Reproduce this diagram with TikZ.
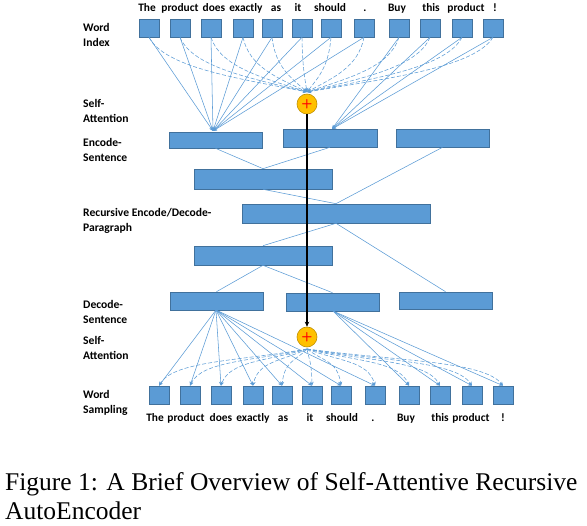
\documentclass[tikz,border=0pt]{standalone}
\usepackage{fontspec}
\setmainfont{Liberation Serif}
\newfontfamily\labfont{Carlito}
\usetikzlibrary{arrows.meta}
\definecolor{boxfill}{HTML}{5B9BD5}
\definecolor{boxline}{HTML}{41719C}
\definecolor{linkc}{HTML}{5B9BD5}
\definecolor{circfill}{HTML}{FFC000}
\definecolor{circline}{HTML}{BF9000}
\tikzset{
  wbox/.style={draw=boxline, fill=boxfill, line width=0.6pt, inner sep=0pt, minimum width=20pt, minimum height=18pt},
  sbox/.style={draw=boxline, fill=boxfill, line width=0.6pt, inner sep=0pt, minimum height=18pt},
  lab/.style={font=\labfont\bfseries\fontsize{11.6}{14.5}\selectfont, align=left, anchor=west, inner sep=0pt},
  wlab/.style={font=\labfont\bfseries\fontsize{11.4}{12}\selectfont, anchor=base, inner sep=0pt},
  link/.style={draw=linkc, line width=0.55pt, -{Stealth[length=4pt,width=3.5pt]}},
  dlink/.style={draw=linkc, line width=0.55pt, dash pattern=on 4pt off 2pt, -{Stealth[length=4pt,width=3.5pt]}},
  attn/.style={circle, draw=circline, fill=circfill, line width=0.6pt, minimum size=20pt, inner sep=0pt, text=red, font=\sffamily\bfseries\fontsize{13}{13}\selectfont},
}
\begin{document}
\begin{tikzpicture}[x=1pt,y=-1pt]
\useasboundingbox (0,0) rectangle (587,526);
% top word boxes
\foreach \x [count=\i] in {149,180,211,243,272,302,331,364,399,430,462,493}
  \node[wbox] (t\i) at (\x,28) {};
\foreach \x [count=\i] in {159,190,221,253,282,312,341,375,409,440,472,503}
  \node[wbox] (b\i) at (\x,395) {};
% top words
\foreach \x/\w in {147/The,180/product,214/does,246/exactly,276/as,298/it,330/should,365/.,397/Buy,431/this,466/product,495/!}
  \node[wlab] at (\x,12) {\w};
\foreach \x/\w in {155/The,186/product,221/does,253/exactly,283/as,310/it,342/should,373/.,406/Buy,440/this,471/product,503/!}
  \node[wlab] at (\x,422) {\w};
% sentence / paragraph boxes
\node[sbox, minimum width=93pt, minimum height=16pt] (e1) at (215.5,140) {};
\node[sbox, minimum width=94pt] (e2) at (330,138) {};
\node[sbox, minimum width=93pt] (e3) at (442.5,138) {};
\node[sbox, minimum width=138pt, minimum height=20pt] (m1) at (263,179) {};
\node[sbox, minimum width=188pt, minimum height=19pt] (r) at (336,213.5) {};
\node[sbox, minimum width=138pt, minimum height=19pt] (m2) at (263,255.5) {};
\node[sbox, minimum width=93pt] (d1) at (216.5,301) {};
\node[sbox, minimum width=93pt] (d2) at (332.5,302) {};
\node[sbox, minimum width=93pt, minimum height=17pt] (d3) at (445.5,300.5) {};
% attention circles
\node[attn] (c1) at (307,104) {+};
\node[attn] (c2) at (307,337) {+};
\coordinate (ctop) at (307,92);
\coordinate (cbot) at (307,349);
\coordinate (el) at (213,131);
\coordinate (er) at (332,129);
\coordinate (dl) at (216,310);
\coordinate (dr) at (333,311);
% tree links
\draw[draw=linkc, line width=0.55pt] (e1.south) -- (m1.north);
\draw[draw=linkc, line width=0.55pt] (e2.south) -- (m1.north);
\draw[draw=linkc, line width=0.55pt] (m1.south) -- (r.north);
\draw[draw=linkc, line width=0.55pt] (e3.south) -- (r.north);
\draw[draw=linkc, line width=0.55pt] (r.south) -- (m2.north);
\draw[draw=linkc, line width=0.55pt] (r.south) -- (d3.north);
\draw[draw=linkc, line width=0.55pt] (m2.south) -- (d1.north);
\draw[draw=linkc, line width=0.55pt] (m2.south) -- (d2.north);
% top solid links
\foreach \i in {1,...,8} \draw[link] (t\i.south) -- (el);
\foreach \i in {9,...,12} \draw[link] (t\i.south) -- (er);
% top dashed links
\foreach \x [count=\i] in {149,180,211,243,272,302,331,364,399,430,462,493} {
  \pgfmathsetmacro{\dx}{307-\x}
  \pgfmathsetmacro{\ax}{0.1*\dx}
  \pgfmathsetmacro{\bx}{-0.45*\dx}
  \draw[dlink] (t\i.south) .. controls +(\ax,30) and +(\bx,-14) .. (ctop);
}
% bottom solid links
\foreach \i in {1,...,8} \draw[link] (dl) -- (b\i.north);
\foreach \i in {9,...,12} \draw[link] (dr) -- (b\i.north);
% bottom dashed links
\foreach \x [count=\i] in {159,190,221,253,282,312,341,375,409,440,472,503} {
  \pgfmathsetmacro{\dx}{\x-307}
  \pgfmathsetmacro{\ax}{0.45*\dx}
  \pgfmathsetmacro{\bx}{-0.1*\dx}
  \draw[dlink] (cbot) .. controls +(\ax,12) and +(\bx,-25) .. (b\i.north);
}
% central black arrow
\draw[black, line width=1.5pt, -{Stealth[length=5pt,width=4.5pt]}] (c1.south) -- (c2.north);
% row labels
\node[lab] (l1) at (83,35) {Word\\Index};
\node[lab] (l2) at (83,111) {Self-\\Attention};
\node[lab] (l3) at (83,150) {Encode-\\Sentence};
\node[lab] (l4) at (83,221) {Recursive Encode/Decode-\\Paragraph};
\node[lab] (l5) at (83,312) {Decode-\\Sentence};
\node[lab] (l6) at (83,348) {Self-\\Attention};
\node[lab] (l7) at (83,403) {Word\\Sampling};
% caption
\node[anchor=base west, inner sep=0pt, font=\fontsize{25.5}{29}\selectfont] (cap1) at (5,491) {Figure 1: A Brief Overview of Self-Attentive Recursive};
\node[anchor=base west, inner sep=0pt, font=\fontsize{25.5}{29}\selectfont] (cap2) at (5,520) {AutoEncoder};
\end{tikzpicture}
\end{document}
